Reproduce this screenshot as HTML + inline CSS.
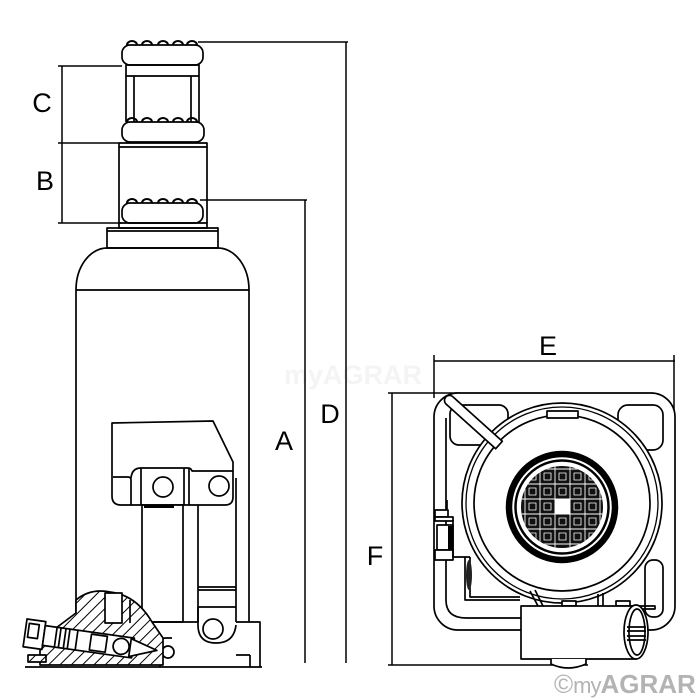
<!DOCTYPE html>
<html><head><meta charset="utf-8">
<style>
html,body{margin:0;padding:0;background:#fff;}
svg{display:block;}
text{font-family:"Liberation Sans",Arial,sans-serif;}
</style></head><body>
<svg width="700" height="700" viewBox="0 0 700 700" xmlns="http://www.w3.org/2000/svg">
<defs>
<pattern id="h" patternUnits="userSpaceOnUse" width="8" height="8" patternTransform="rotate(45)">
<rect width="8" height="8" fill="#fff"/>
<line x1="0" y1="0" x2="0" y2="8" stroke="#000" stroke-width="2"/>
</pattern>
<clipPath id="rc"><circle cx="562" cy="507" r="41"/></clipPath>
</defs>

<!-- faint watermark -->
<text x="284" y="384" font-size="27" font-weight="bold" fill="#f4f4f4">myAGRAR</text>

<g fill="none" stroke="#000" stroke-width="1.7" stroke-linejoin="round">

<!-- ===== LEFT VIEW ===== -->
<rect x="122" y="45" width="81" height="20" rx="8" fill="#fff"/>
<path d="M127 45 A5 4 0 0 1 137 45 M142 45 A5 4 0 0 1 152 45 M158 45 A5 4 0 0 1 168 45 M173 45 A5 4 0 0 1 183 45 M187 45 A5 4 0 0 1 197 45" stroke-width="2"/>
<rect x="126" y="65" width="73" height="11"/>
<path d="M126 76 V122 M134 76 V122 M191 76 V122 M199 76 V122"/>
<rect x="122" y="122" width="82" height="20" rx="8" fill="#fff"/>
<path d="M127 122 A5 4 0 0 1 137 122 M142 122 A5 4 0 0 1 152 122 M158 122 A5 4 0 0 1 168 122 M173 122 A5 4 0 0 1 183 122 M187 122 A5 4 0 0 1 197 122" stroke-width="2"/>
<rect x="119" y="143" width="88" height="4"/>
<path d="M119 147 V223 M207 147 V223"/>
<rect x="122" y="203" width="81" height="20" rx="8" fill="#fff"/>
<path d="M127 203 A5 4 0 0 1 137 203 M142 203 A5 4 0 0 1 152 203 M158 203 A5 4 0 0 1 168 203 M173 203 A5 4 0 0 1 183 203 M187 203 A5 4 0 0 1 197 203" stroke-width="2"/>
<rect x="119" y="223" width="88" height="5"/>
<rect x="107" y="228" width="111" height="20"/>
<line x1="107" y1="231" x2="218" y2="231"/>
<path d="M76 613 L76 290 A31 42 0 0 1 107 248 L218 248 A31 42 0 0 1 249 290 L249 622"/>
<line x1="76" y1="290" x2="249" y2="290"/>

<!-- pump socket -->
<path d="M112 423 L213 421 L233 462 L233 497 Q233 505 225 505 L121 505 Q112 505 112 496 Z" fill="#fff"/>
<path d="M113 477 L128 477 Q131 477 131 480 L131 505"/>
<path d="M131 478 Q132 468 141 468 L188 468 Q191 468 192 471 L233 471"/>
<path d="M141 468 V505 M184 468 V505 M189 468 V505"/>
<circle cx="163" cy="487" r="10"/>
<circle cx="219" cy="486" r="10"/>

<!-- rods -->
<rect x="142" y="505" width="41" height="117" fill="#fff"/>
<rect x="144" y="505" width="30" height="3" fill="#000" stroke="none"/>
<path d="M198 505 V622 M236 478 V622"/>
<path d="M198 587 H236 M198 590 H236 M198 607 H236"/>
<path d="M198 607 V625 Q198 643 216 643 Q234 643 236 625"/>
<circle cx="213" cy="629" r="10"/>
<path d="M150 622 H198 M236 622 H260 V667 M250 655 V667 M236 655 H250"/>
<path d="M160 667 V643 Q160 638 166 638 L172 638"/>
<circle cx="168" cy="652" r="6"/>

<!-- hatched valve housing -->
<path d="M76 600 C88 590 100 590 110 592 C128 594 142 605 152 622 L163 638 L163 665 L40 665 L40 640 L76 613 Z" fill="url(#h)"/>
<rect x="105" y="593" width="17" height="30" fill="#fff"/>
<path d="M130 600 V623"/>
<g transform="translate(27 619) rotate(8)">
<rect x="0" y="0" width="19" height="28" fill="#fff"/>
<rect x="3" y="4" width="10" height="14"/>
<rect x="19" y="4" width="90" height="20" fill="#fff"/>
<path d="M31 4 V24 M35 4 V24 M40 4 V24 M44 4 V24 M52 4 V24"/>
<rect x="66" y="6" width="16" height="16" fill="#fff"/>
<path d="M106 5 L133 13 L106 23 Z" fill="#fff"/>
<circle cx="97" cy="14" r="8" fill="#fff"/>
</g>
<rect x="28" y="655" width="18" height="7" fill="url(#h)"/>
<line x1="25" y1="667" x2="262" y2="667"/>

<!-- dimension lines left -->
<g stroke-width="1.5">
<path d="M198 42 H348 M346 42 V663"/>
<path d="M200 200 H307 M305 200 V663"/>
<path d="M58 66 H122 M62 66 V223 M58 143 H119 M58 223 H122"/>
</g>

<!-- ===== RIGHT VIEW ===== -->
<g stroke-width="1.5">
<path d="M434 361 H675 M434 355 V398 M674 355 V415"/>
<path d="M388 393 H460 M392 393 V665 M388 665 H588"/>
</g>
<rect x="434" y="393" width="241" height="237" rx="24" fill="#fff"/>
<path d="M446 418 L446 600 Q446 618 466 618 L521 618"/>
<rect x="450" y="405" width="58" height="40" rx="9" fill="#fff"/>
<rect x="618" y="405" width="45" height="45" rx="10" fill="#fff"/>
<rect x="645" y="560" width="18" height="57" rx="8" fill="#fff"/>

<!-- left fittings -->
<path d="M447 500 V517 M463 500 V517"/>
<rect x="435" y="510" width="13" height="7" fill="#fff"/>
<rect x="435" y="517" width="18" height="4" fill="#fff"/>
<rect x="437" y="525" width="16" height="25" fill="#fff"/>
<rect x="448" y="526" width="5" height="23" fill="#000" stroke="none"/>
<rect x="435" y="550" width="18" height="10" fill="#fff"/>
<path d="M453 520 V557 H470"/>
<path d="M465 557 V600 H520 M470 557 V597 H520"/>
<ellipse cx="469" cy="575" rx="3" ry="15" fill="#222" stroke="none"/>

<!-- big circle -->
<circle cx="562" cy="503" r="100" fill="#fff"/>
<circle cx="562" cy="503" r="96" stroke-width="1.3"/>
<circle cx="562" cy="503" r="88"/>
<rect x="547" y="411" width="31" height="7" fill="#fff"/>

<!-- ram head -->
<circle cx="562" cy="507" r="53" stroke-width="6.5"/>
<circle cx="562" cy="507" r="46.5" stroke-width="2.5"/>
<circle cx="562" cy="507" r="41" fill="#111" stroke="none"/>
<g clip-path="url(#rc)" stroke="#fff" stroke-width="0.9">
<path d="M525 460 V555 M540 460 V555 M555 460 V555 M570 460 V555 M585 460 V555 M600 460 V555 M515 469 H610 M515 484 H610 M515 499 H610 M515 514 H610 M515 529 H610 M515 544 H610"/>
<rect x="555" y="499" width="15" height="15" fill="#fff"/>
<g stroke-width="0.8">
<rect x="529" y="473" width="7" height="7"/><rect x="544" y="473" width="7" height="7"/><rect x="559" y="473" width="7" height="7"/><rect x="574" y="473" width="7" height="7"/><rect x="589" y="473" width="7" height="7"/>
<rect x="529" y="488" width="7" height="7"/><rect x="544" y="488" width="7" height="7"/><rect x="559" y="488" width="7" height="7"/><rect x="574" y="488" width="7" height="7"/><rect x="589" y="488" width="7" height="7"/>
<rect x="529" y="503" width="7" height="7"/><rect x="544" y="503" width="7" height="7"/><rect x="574" y="503" width="7" height="7"/><rect x="589" y="503" width="7" height="7"/>
<rect x="529" y="518" width="7" height="7"/><rect x="544" y="518" width="7" height="7"/><rect x="559" y="518" width="7" height="7"/><rect x="574" y="518" width="7" height="7"/><rect x="589" y="518" width="7" height="7"/>
<rect x="529" y="533" width="7" height="7"/><rect x="544" y="533" width="7" height="7"/><rect x="559" y="533" width="7" height="7"/><rect x="574" y="533" width="7" height="7"/><rect x="589" y="533" width="7" height="7"/>
</g>
</g>

<!-- handle bar -->
<path d="M452.3 396.3 L502.3 441.3 L495.7 448.7 L445.7 403.7 A5 5 0 0 1 452.3 396.3 Z" fill="#fff"/>

<!-- legs and tabs -->
<path d="M530 591 L538 606 M535 590 L543 606 M598 594 V606 M603 593 V606"/>
<rect x="562" y="601" width="14" height="5" fill="#fff"/>
<rect x="616" y="601" width="14" height="5" fill="#fff"/>
<path d="M630 606 H655 V609 H636"/>
<rect x="521" y="606" width="115" height="53" fill="#fff"/>
<ellipse cx="636" cy="632" rx="12" ry="27" fill="#fff"/>
<ellipse cx="637" cy="632" rx="8" ry="23"/>
<path d="M627 627 H646 M627 631 H646 M627 636 H646 M627 640 H646"/>
<path d="M551 659 V664 Q568 672 586 664 V659" fill="#fff"/>
</g>

<!-- labels -->
<g font-size="27" fill="#000" text-anchor="middle">
<text x="42" y="112">C</text>
<text x="45" y="190">B</text>
<text x="284" y="450">A</text>
<text x="330" y="423">D</text>
<text x="548" y="355">E</text>
<text x="375" y="565">F</text>
</g>

<!-- logo -->
<text x="554" y="693" fill="#b3b3b3"><tspan font-size="26">©</tspan><tspan font-size="22" letter-spacing="-1">my</tspan><tspan font-size="26" font-weight="bold">AGRAR</tspan></text>
</svg>
</body></html>
